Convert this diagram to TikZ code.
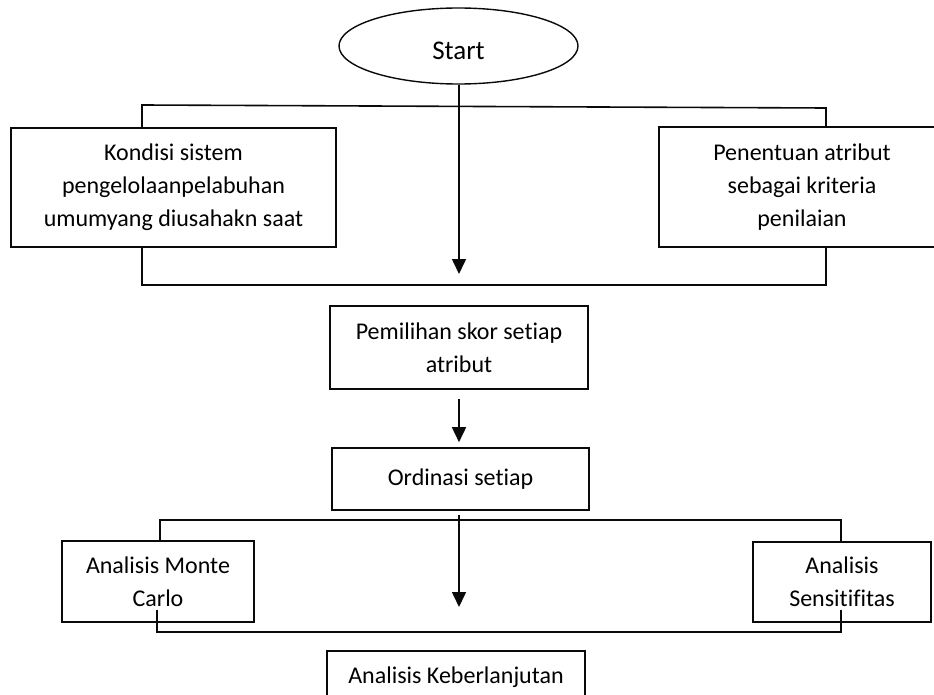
\documentclass[tikz,border=0pt]{standalone}
\usepackage{fontspec}
\setmainfont{Carlito}[Ligatures=NoCommon]
\usetikzlibrary{arrows.meta,positioning,shapes.geometric}
\definecolor{ink}{RGB}{10,10,10}
\tikzset{
  >={Triangle[length=15pt,width=14pt]},
  box/.style={draw=ink,line width=1.6pt,align=center,inner sep=0pt,
    font=\fontsize{24}{33}\selectfont},
  terminal/.style={ellipse,draw=ink,line width=1.4pt,inner sep=0pt,
    minimum width=239pt,minimum height=76pt,text height=28pt,text depth=0pt,
    font=\fontsize{27}{33}\selectfont},
  link/.style={draw=ink,line width=1.6pt},
}
\begin{document}
\begin{tikzpicture}[x=1pt,y=-1pt]
  \useasboundingbox (0,0) rectangle (934,695);
  \clip (0,0) rectangle (934,695);
  % blocks
  \node[terminal] (start) at (458.5,46) {Start};
  \node[box,minimum width=325pt,minimum height=119pt] (kondisi) at (173.5,187.5)
    {Kondisi sistem\\pengelolaanpelabuhan\\umumyang diusahakn saat};
  \node[box,minimum width=286pt,minimum height=120pt] (penentuan) at (802,187)
    {Penentuan atribut\\sebagai kriteria\\penilaian};
  \node[box,minimum width=258pt,minimum height=83pt] (pemilihan) at (459,347.5)
    {Pemilihan skor setiap\\atribut};
  \node[box,minimum width=257pt,minimum height=62pt] (ordinasi) at (460.5,479)
    {Ordinasi setiap};
  \node[box,minimum width=192pt,minimum height=81pt] (monte) at (158,581.5)
    {Analisis Monte\\Carlo};
  \node[box,minimum width=178pt,minimum height=80pt] (sensi) at (842,582)
    {Analisis\\Sensitifitas};
  \node[box,minimum width=258pt,minimum height=52pt] (lanjut) at (456,677)
    {Analisis Keberlanjutan};
  % junction points
  \coordinate (topL) at (142,105);
  \coordinate (topR) at (826,108);
  \coordinate (joinL) at (142,285);
  \coordinate (joinR) at (826,285);
  \coordinate (tip1) at (459,274);
  \coordinate (tip3) at (459,607);
  \coordinate (midL) at (160,520);
  \coordinate (midR) at (841,520);
  \coordinate (stubL) at (157,610);
  \coordinate (stubR) at (841,610);
  \coordinate (lowL) at (157,632);
  \coordinate (lowR) at (841,632);
  % connectors
  \draw[link] (kondisi.north -| topL) -- (topL) -- (topR) -- (penentuan.north -| topR);
  \draw[link] (kondisi.south -| joinL) -- (joinL) -- (joinR) -- (penentuan.south -| joinR);
  \draw[link,->] (start.south -| tip1) -- (tip1);
  \draw[link,->,shorten <=9pt,shorten >=5pt] (pemilihan.south) -- (pemilihan.south |- ordinasi.north);
  \draw[link,->,shorten <=4pt] (ordinasi.south -| tip3) -- (tip3);
  \draw[link] (monte.north -| midL) -- (midL) -- (midR) -- (sensi.north -| midR);
  \draw[link] (stubL) -- (lowL) -- (lowR) -- (stubR);
\end{tikzpicture}
\end{document}
